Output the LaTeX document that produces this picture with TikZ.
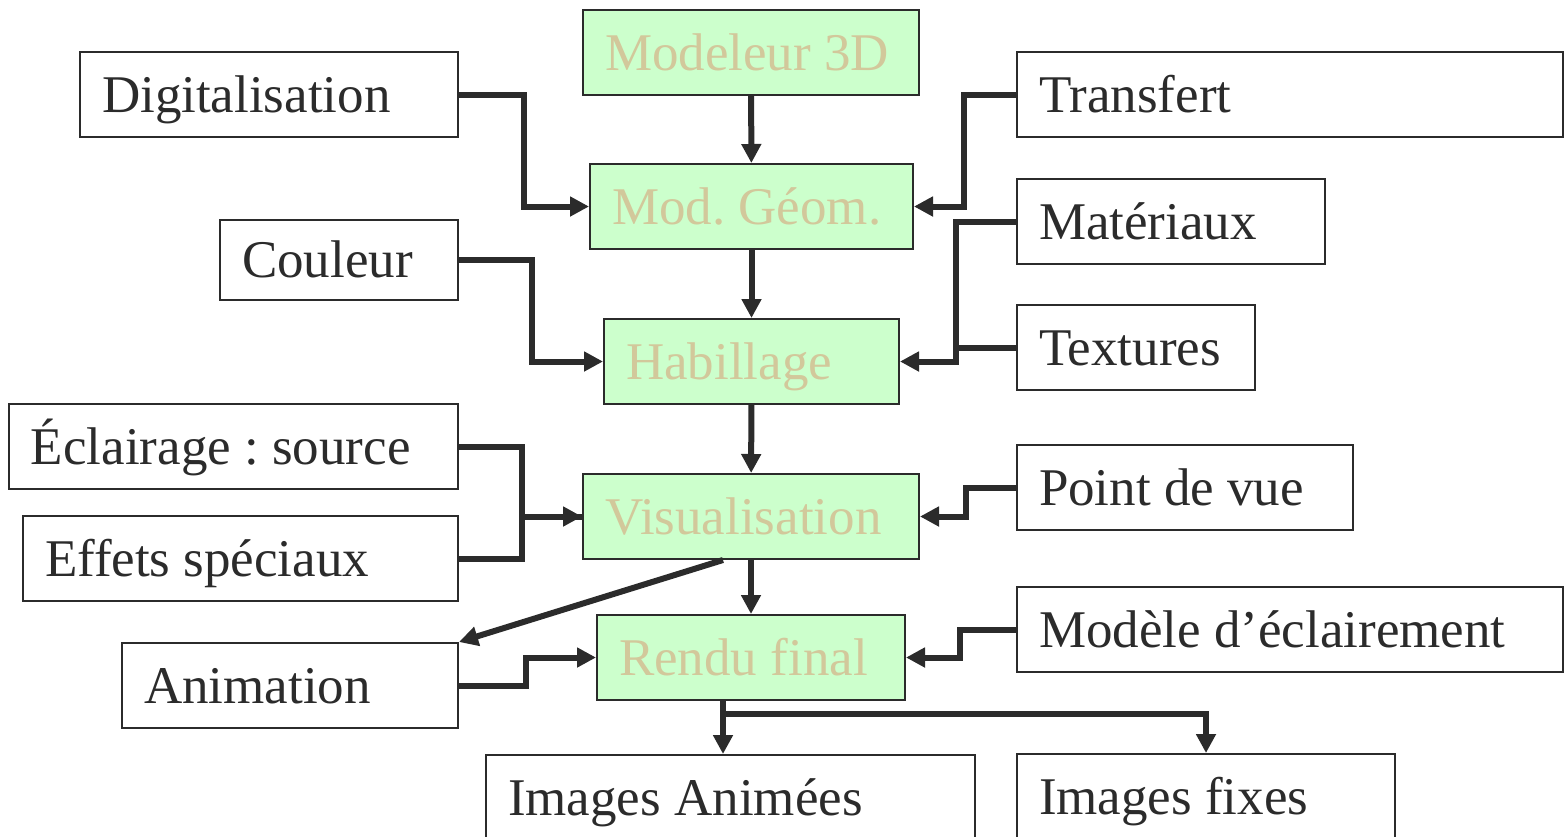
\documentclass[tikz,border=0pt]{standalone}
\usepackage{fontspec}
\setmainfont{Liberation Serif}
\usetikzlibrary{arrows.meta}
\definecolor{trait}{HTML}{2B2B2B}
\definecolor{vertclair}{HTML}{CCFFCC}
\definecolor{beige}{HTML}{D2C89B}

\begin{document}
\frenchspacing
\begin{tikzpicture}[x=0.5pt, y=-0.5pt,
    boite/.style={draw=trait, line width=1pt, fill=white, anchor=north west,
      minimum height=42.5pt, inner xsep=11pt, inner ysep=0pt,
      text width=#1*0.5pt-22pt, align=flush left, text height=17.5pt, text depth=0pt,
      font=\fontsize{26.5pt}{30pt}\selectfont, text=trait},
    etape/.style={boite=#1, fill=vertclair, text=beige},
    fleche/.style={draw=trait, line width=3pt, -{Triangle[length=9.5pt,width=9.5pt]}},
    lien/.style={draw=trait, line width=3pt}]
        \useasboundingbox (0,0) rectangle (1568,836);
        \clip (0,0) rectangle (1568,836);

        % Chaine principale
        \node[etape=336] (mod3d) at (582,9) {Modeleur 3D};
        \node[etape=323] (geom) at (589,163) {Mod. Géom.};
        \node[etape=295] (habil) at (603,318) {Habillage};
        \node[etape=336] (visu) at (582,473) {Visualisation};
        \node[etape=308] (rendu) at (596,614) {Rendu final};

        % Entrees a gauche
        \node[boite=378] (digit) at (79,51) {Digitalisation};
        \node[boite=238, minimum height=40pt] (coul) at (219,219) {Couleur};
        \node[boite=449] (eclair) at (8,403) {Éclairage : source};
        \node[boite=435] (effets) at (22,515) {Effets spéciaux};
        \node[boite=336] (anim) at (121,642) {Animation};

        % Entrees a droite
        \node[boite=546] (transf) at (1016,51) {Transfert};
        \node[boite=308] (mater) at (1016,178) {Matériaux};
        \node[boite=238] (textu) at (1016,304) {Textures};
        \node[boite=336] (pdv) at (1016,444) {Point de vue};
        \node[boite=546] (modecl) at (1016,586) {Modèle d’éclairement};

        % Sorties
        \node[boite=489] (imanim) at (485,754) {Images Animées};
        \node[boite=378] (imfix) at (1016,753) {Images fixes};

        % Liens verticaux
        \draw[fleche] (mod3d) -- (geom);
        \draw[fleche] (geom) -- (habil);
        \draw[fleche] (habil) -- (visu);
        \draw[fleche] (visu) -- (rendu);

        % Liens a gauche
        \draw[fleche] (digit.east) -- ++(65,0) |- (geom.west);
        \draw[fleche] (coul.east) -- ++(73,0) |- (habil.west);
        \draw[fleche] (eclair.east) -- ++(63,0) |- (visu.west);
        \draw[lien] (effets.east) -- ++(63,0) |- (visu.west);
        \draw[fleche] (anim.east) -- ++(67,0) |- (rendu.west);
        \draw[fleche] ([xshift=-14pt]visu.south) -- (anim.north east);

        % Liens a droite
        \draw[fleche] (transf.west) -- ++(-52,0) |- (geom.east);
        \draw[fleche] (mater.west) -- ++(-60,0) |- (habil.east);
        \draw[lien] (textu.west) -- ++(-60,0);
        \draw[fleche] (pdv.west) -- ++(-50,0) |- (visu.east);
        \draw[fleche] (modecl.west) -- ++(-56,0) |- (rendu.east);

        % Sorties
        \coordinate (sortie) at ([xshift=-14pt]rendu.south);
        \draw[fleche] (sortie) -- (sortie |- imanim.north);
        \draw[fleche] (sortie) -- ++(0,13) -| (imfix.north);
    \end{tikzpicture}
\end{document}
